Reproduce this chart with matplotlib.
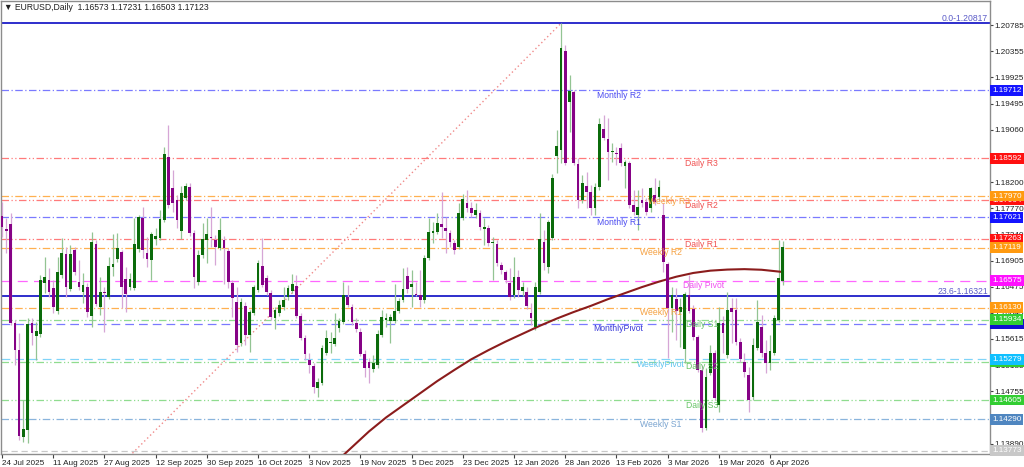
import matplotlib
matplotlib.use("Agg")
import matplotlib.pyplot as plt
import numpy as np

plt.rcParams["font.family"] = ["Liberation Sans", "DejaVu Sans"]

# ---------------- data (EURUSD daily) ----------------
opens = [
 1.17640, 1.17426, 1.17508, 1.15875, 1.15429, 1.13993, 1.14109, 1.15875, 1.15660, 1.15693,
 1.16535, 1.16584, 1.16452, 1.16073, 1.16667, 1.17013, 1.16436, 1.17079, 1.16551, 1.16386,
 1.16469, 1.15990, 1.17178, 1.16139, 1.16386, 1.16304, 1.16799, 1.16931, 1.17046, 1.16601,
 1.16469, 1.16452, 1.17096, 1.17607, 1.17030, 1.16914, 1.17261, 1.17277, 1.17574, 1.18614,
 1.18102, 1.17904, 1.17393, 1.17937, 1.18119, 1.17360, 1.16551, 1.16997, 1.17244, 1.17294,
 1.17244, 1.17112, 1.17244, 1.17063, 1.16535, 1.16221, 1.15545, 1.16155, 1.15677, 1.16040,
 1.16419, 1.16815, 1.16617, 1.16370, 1.15957, 1.16040, 1.16139, 1.16304, 1.16403, 1.16485,
 1.15990, 1.15627, 1.15264, 1.15165, 1.14802, 1.14885, 1.15380, 1.15545, 1.15528, 1.15792,
 1.15891, 1.16304, 1.16139, 1.15875, 1.15726, 1.15363, 1.15231, 1.15116, 1.15182, 1.15677,
 1.15924, 1.15908, 1.15908, 1.16073, 1.16254, 1.16650, 1.16469, 1.16353, 1.16337, 1.16254,
 1.16947, 1.17360, 1.17376, 1.17508, 1.17442, 1.17360, 1.17195, 1.17129, 1.17607, 1.17855,
 1.17772, 1.17657, 1.17690, 1.17426, 1.17442, 1.17195, 1.17178, 1.16832, 1.16716, 1.16535,
 1.16337, 1.16634, 1.16403, 1.16386, 1.16040, 1.15809, 1.16386, 1.17211, 1.16799, 1.17277,
 1.18630, 1.18729, 1.20363, 1.19521, 1.19686, 1.18498, 1.17904, 1.18135, 1.18036, 1.17772,
 1.18119, 1.19076, 1.18911, 1.18696, 1.18680, 1.18762, 1.18465, 1.18515, 1.17822, 1.17657,
 1.17904, 1.17871, 1.17772, 1.17987, 1.17954, 1.17657, 1.16848, 1.16122, 1.16271, 1.16056,
 1.15446, 1.16337, 1.16106, 1.15644, 1.15099, 1.14142, 1.15050, 1.15380, 1.14522, 1.15875,
 1.15347, 1.16122, 1.16089, 1.15561, 1.15231, 1.15017, 1.14654, 1.15462, 1.15809, 1.15380,
 1.15215, 1.15380, 1.15924, 1.16573]
highs = [
 1.17871, 1.17607, 1.17690, 1.15924, 1.15710, 1.14604, 1.15957, 1.15957, 1.15891, 1.16667,
 1.16964, 1.16782, 1.16584, 1.16964, 1.17277, 1.17129, 1.17162, 1.17129, 1.16914, 1.16700,
 1.16535, 1.17376, 1.17244, 1.16634, 1.16469, 1.16964, 1.17343, 1.17360, 1.17079, 1.16799,
 1.16700, 1.17607, 1.17657, 1.17789, 1.17294, 1.17376, 1.17442, 1.17739, 1.18779, 1.19142,
 1.18399, 1.17987, 1.18135, 1.18185, 1.18185, 1.17409, 1.17079, 1.17525, 1.17607, 1.17789,
 1.17327, 1.17607, 1.17310, 1.17112, 1.16584, 1.16469, 1.16287, 1.16221, 1.16089, 1.16502,
 1.16914, 1.17277, 1.16667, 1.16419, 1.16139, 1.16254, 1.16469, 1.16502, 1.16683, 1.16667,
 1.16040, 1.15677, 1.15380, 1.15215, 1.14967, 1.15512, 1.15759, 1.15726, 1.16040, 1.15957,
 1.16551, 1.16502, 1.16188, 1.15957, 1.15792, 1.15429, 1.15297, 1.15347, 1.15759, 1.16089,
 1.16040, 1.16023, 1.16518, 1.16287, 1.16782, 1.16799, 1.16749, 1.16551, 1.16749, 1.16997,
 1.17607, 1.17541, 1.17690, 1.18036, 1.17624, 1.17409, 1.17244, 1.17855, 1.18003, 1.18069,
 1.17871, 1.17855, 1.17739, 1.17607, 1.17492, 1.17294, 1.17244, 1.16881, 1.16749, 1.16782,
 1.16964, 1.16749, 1.16551, 1.16469, 1.16205, 1.16551, 1.17690, 1.17409, 1.17574, 1.18333,
 1.19059, 1.20817, 1.20462, 1.19967, 1.19719, 1.18597, 1.18317, 1.18366, 1.18152, 1.18185,
 1.19257, 1.19307, 1.19257, 1.18845, 1.18779, 1.18845, 1.18564, 1.18548, 1.18069, 1.18069,
 1.18102, 1.17937, 1.18119, 1.18267, 1.18234, 1.17855, 1.16881, 1.16469, 1.16452, 1.16287,
 1.16386, 1.16667, 1.16172, 1.15677, 1.15182, 1.15132, 1.15512, 1.15429, 1.16139, 1.15990,
 1.16386, 1.16287, 1.16287, 1.15627, 1.15380, 1.15149, 1.15627, 1.16254, 1.16007, 1.15594,
 1.15677, 1.16007, 1.17244, 1.17231]
lows = [
 1.17294, 1.17030, 1.15842, 1.15182, 1.13944, 1.13911, 1.13895, 1.15512, 1.15264, 1.15644,
 1.16370, 1.16304, 1.16040, 1.16023, 1.16617, 1.16304, 1.16403, 1.16667, 1.16419, 1.16205,
 1.15974, 1.15809, 1.16155, 1.16007, 1.15726, 1.16271, 1.16650, 1.16881, 1.16122, 1.16056,
 1.16419, 1.16419, 1.17046, 1.16947, 1.16799, 1.16584, 1.17162, 1.17244, 1.17541, 1.17772,
 1.17706, 1.17442, 1.17261, 1.17904, 1.17310, 1.16452, 1.16502, 1.16947, 1.16865, 1.17129,
 1.16832, 1.17079, 1.16518, 1.16452, 1.15974, 1.15396, 1.15495, 1.15512, 1.15396, 1.16007,
 1.16386, 1.16469, 1.16337, 1.15924, 1.15776, 1.15990, 1.16089, 1.16254, 1.16370, 1.15957,
 1.15594, 1.15264, 1.15050, 1.14720, 1.14654, 1.14852, 1.15347, 1.15380, 1.15495, 1.15726,
 1.15858, 1.16139, 1.15842, 1.15726, 1.15330, 1.14984, 1.14885, 1.15066, 1.15132, 1.15644,
 1.15809, 1.15545, 1.15875, 1.16040, 1.16221, 1.16370, 1.16139, 1.16320, 1.16139, 1.16205,
 1.16914, 1.17195, 1.17343, 1.17277, 1.17030, 1.17129, 1.17013, 1.17096, 1.17574, 1.17706,
 1.17624, 1.17607, 1.17409, 1.17162, 1.17145, 1.16584, 1.16815, 1.16683, 1.16535, 1.16254,
 1.16287, 1.16304, 1.16320, 1.16106, 1.15842, 1.15759, 1.16353, 1.16749, 1.16700, 1.17244,
 1.18350, 1.18515, 1.18482, 1.19026, 1.18482, 1.17772, 1.17855, 1.17772, 1.17657, 1.17657,
 1.18069, 1.18894, 1.18234, 1.18531, 1.18482, 1.18465, 1.18102, 1.17772, 1.17657, 1.17409,
 1.17789, 1.17657, 1.17706, 1.17822, 1.17904, 1.16716, 1.15297, 1.15726, 1.15594, 1.15479,
 1.15215, 1.16040, 1.15594, 1.15066, 1.14076, 1.14109, 1.15017, 1.14604, 1.14406, 1.15380,
 1.15297, 1.15545, 1.15512, 1.15231, 1.14984, 1.14406, 1.14604, 1.15429, 1.15314, 1.15050,
 1.15099, 1.15347, 1.15891, 1.16503]
closes = [
 1.17459, 1.17393, 1.15875, 1.15429, 1.14010, 1.14125, 1.15858, 1.15710, 1.15743, 1.16584,
 1.16634, 1.16386, 1.16139, 1.16716, 1.17030, 1.16469, 1.17013, 1.16716, 1.16469, 1.16502,
 1.16056, 1.17211, 1.16188, 1.16386, 1.16370, 1.16815, 1.16848, 1.17112, 1.16469, 1.16353,
 1.16601, 1.17178, 1.17624, 1.17079, 1.16931, 1.17343, 1.17310, 1.17591, 1.18663, 1.17822,
 1.17855, 1.17574, 1.18020, 1.18135, 1.17360, 1.16634, 1.16997, 1.17261, 1.17343, 1.17277,
 1.17129, 1.17409, 1.17112, 1.16551, 1.16287, 1.15512, 1.16221, 1.15677, 1.16056, 1.16469,
 1.16865, 1.16502, 1.16386, 1.15974, 1.16089, 1.16172, 1.16254, 1.16452, 1.16518, 1.15990,
 1.15627, 1.15363, 1.15182, 1.14819, 1.14901, 1.15462, 1.15627, 1.15561, 1.15627, 1.15908,
 1.16337, 1.16172, 1.15891, 1.15776, 1.15363, 1.15132, 1.15132, 1.15215, 1.15693, 1.15974,
 1.15957, 1.15974, 1.16073, 1.16238, 1.16436, 1.16436, 1.16518, 1.16337, 1.16254, 1.16947,
 1.17376, 1.17393, 1.17525, 1.17459, 1.17393, 1.17211, 1.17079, 1.17690, 1.17921, 1.17772,
 1.17690, 1.17739, 1.17459, 1.17459, 1.17195, 1.17211, 1.16865, 1.16749, 1.16584, 1.16304,
 1.16634, 1.16419, 1.16469, 1.16155, 1.15957, 1.16469, 1.17261, 1.16865, 1.17541, 1.18267,
 1.18795, 1.20412, 1.18515, 1.19703, 1.18515, 1.17904, 1.18185, 1.18036, 1.17772, 1.18119,
 1.19158, 1.18927, 1.18696, 1.18713, 1.18663, 1.18515, 1.18531, 1.17822, 1.17706, 1.17789,
 1.17855, 1.17706, 1.18102, 1.17871, 1.18119, 1.16881, 1.16122, 1.16337, 1.16073, 1.16139,
 1.16353, 1.16073, 1.15644, 1.15099, 1.14142, 1.14984, 1.15380, 1.14637, 1.15875, 1.15710,
 1.16089, 1.16056, 1.15561, 1.15281, 1.15066, 1.14604, 1.15512, 1.15891, 1.15380, 1.15215,
 1.15413, 1.15957, 1.16617, 1.17123]

date_idx = [0, 12, 24, 36, 48, 60, 72, 84, 96, 108, 120, 132, 144, 156, 168, 180]
date_labels = ["24 Jul 2025", "11 Aug 2025", "27 Aug 2025", "12 Sep 2025", "30 Sep 2025",
               "16 Oct 2025", "3 Nov 2025", "19 Nov 2025", "5 Dec 2025", "23 Dec 2025",
               "12 Jan 2026", "28 Jan 2026", "13 Feb 2026", "3 Mar 2026", "19 Mar 2026",
               "6 Apr 2026"]

price_ticks = [1.20785, 1.20355, 1.19925, 1.19495, 1.19060, 1.18630, 1.18200, 1.17770,
               1.17340, 1.16905, 1.16475, 1.16045, 1.15615, 1.15185, 1.14755, 1.14320, 1.13890]

# 200-day moving average
ma_idx = [78, 82, 86, 90, 94, 98, 102, 106, 110, 114, 118, 122, 126, 130, 134, 138, 142,
          146, 150, 154, 158, 162, 166, 170, 174, 178, 183]
ma_vals = [1.13570, 1.13830, 1.14090, 1.14320, 1.14520, 1.14720, 1.14920, 1.15103, 1.15280,
           1.15430, 1.15570, 1.15700, 1.15830, 1.15950, 1.16059, 1.16160, 1.16270, 1.16370,
           1.16470, 1.16560, 1.16640, 1.16702, 1.16740, 1.16758, 1.16765, 1.16755, 1.16718]

# Fibonacci anchors (low is off-chart to the left)
fib_low_idx, fib_low = -139, 1.01766
fib_high_idx, fib_high = 131, 1.20817
fib_levels = [("0.0-1.20817", 1.20817), ("23.6-1.16321", 1.16321)]

# pivot levels
level_names = ["Monthly R2", "Daily R3", "Daily R2", "Weekly R3", "Monthly R1", "Daily R1",
               "Weekly R2", "Daily Pivot", "Weekly R1", "Daily S1", "MonthlyPivot",
               "Daily S2", "WeeklyPivot", "Daily S3", "Weekly S1"]
level_prices = [1.19712, 1.18592, 1.17904, 1.17970, 1.17621, 1.17263, 1.17119, 1.16575,
                1.16130, 1.15934, 1.15864, 1.15240, 1.15279, 1.14605, 1.14290]
level_kind = ["MR", "DR", "DR", "WR", "MR", "DR", "WR", "DP", "WR", "DS", "MP", "DS", "WP",
              "DS", "WS"]
level_label_idx = [139.4, 160.0, 160.0, 151.4, 139.4, 160.0, 149.5, 159.6, 149.5, 160.3,
                   138.5, 160.3, 148.8, 160.3, 149.5]
bid_line = 1.13773

# ---------------- styling ----------------
styles = {
    "MR": dict(line="#7a7aff", text="#4b4bf0", box="#1414ff", ls=(0, (6, 2, 1, 2))),
    "MP": dict(line="#7a7aff", text="#3a3ad8", box="#1010d0", ls=(0, (7, 4))),
    "DR": dict(line="#ff7a7a", text="#f05050", box="#ff1010", ls=(0, (6, 2, 1, 2, 1, 2))),
    "DP": dict(line="#ff66ff", text="#f050f0", box="#ff10ff", ls=(0, (8, 5))),
    "DS": dict(line="#8fdc8f", text="#66c466", box="#32cd32", ls=(0, (6, 2, 1, 2, 1, 2))),
    "WR": dict(line="#ffb050", text="#f5a040", box="#ff9a10", ls=(0, (6, 2, 1, 2))),
    "WP": dict(line="#80d4f8", text="#60c4f0", box="#10c0ff", ls=(0, (7, 4))),
    "WS": dict(line="#8ab4dc", text="#7aa4d0", box="#4f86c0", ls=(0, (6, 2, 1, 2))),
}

FS = 6.2
RFS = 5.9
W, H = 1024, 467
fig = plt.figure(figsize=(W / 100, H / 100), dpi=100)
fig.patch.set_facecolor("white")
ax = fig.add_axes([1 / W, 13 / H, 989 / W, 453 / H])
ax.set_facecolor("white")
ax.set_xlim(-0.25, 231.55)
ax.set_ylim(1.13718, 1.21185)

# level lines
for name, p, k, lx in zip(level_names, level_prices, level_kind, level_label_idx):
    st = styles[k]
    ax.axhline(p, color=st["line"], lw=0.9, ls=st["ls"], zorder=1)
    ax.text(lx, p - 0.00010, name, color=st["text"], fontsize=FS, va="top", ha="left",
            zorder=4)

ax.axhline(bid_line, color="#c8c8c8", lw=0.9, ls=(0, (5, 3)), zorder=1)

# fib
for lab, p in fib_levels:
    ax.axhline(p, color="#1c1cc8", lw=1.3, zorder=2)
    ax.text(0.998, p + 0.00008, lab, transform=ax.get_yaxis_transform(), ha="right",
            va="bottom", fontsize=FS, color="#5a5ac8", zorder=4)
ax.plot([fib_low_idx, fib_high_idx], [fib_low, fib_high], color="#f08a8a", lw=1.0,
        ls=(0, (1, 2)), zorder=1)

# candles
o = np.array(opens); h = np.array(highs); l = np.array(lows); c = np.array(closes)
x = np.arange(len(c))
up = c >= o
ax.vlines(x[up], l[up], h[up], color="#93c493", lw=0.9, zorder=3)
ax.vlines(x[~up], l[~up], h[~up], color="#d6a6d6", lw=0.9, zorder=3)
bh = np.maximum(np.abs(c - o), 0.00012)
bb = np.minimum(o, c)
ax.bar(x[up], bh[up], bottom=bb[up], width=0.64, color="#0b6b0b", lw=0, zorder=3.5)
ax.bar(x[~up], bh[~up], bottom=bb[~up], width=0.64, color="#860286", lw=0, zorder=3.5)

# moving average
ax.plot(ma_idx, ma_vals, color="#8b1c1c", lw=1.5, zorder=3.2, solid_capstyle="round")

# axes styling
for s in ax.spines.values():
    s.set_color("#8c8c8c")
    s.set_linewidth(1.0)
ax.yaxis.tick_right()
ax.set_yticks(price_ticks)
ax.set_yticklabels([f"{v:.5f}" for v in price_ticks])
ax.tick_params(axis="y", direction="out", length=2, width=0.8, labelsize=RFS, pad=1,
               color="#404040", labelcolor="#202020")
ax.set_xticks(date_idx)
ax.set_xticklabels(date_labels, ha="left")
ax.tick_params(axis="x", direction="out", length=3, width=0.8, labelsize=RFS, pad=1,
               color="#404040", labelcolor="#202020")

# right-hand price boxes
box_order = [10, 9, 11, 12, 2, 3, 0, 1, 4, 5, 6, 7, 8, 13, 14]
for j in box_order:
    st = styles[level_kind[j]]
    ax.annotate(f"{level_prices[j]:.5f}", xy=(1.0, level_prices[j]),
                xycoords=("axes fraction", "data"), xytext=(1.6, 0),
                textcoords="offset points", ha="left", va="center", fontsize=RFS,
                color="white", annotation_clip=False, zorder=6,
                bbox=dict(boxstyle="square,pad=0.22", fc=st["box"], ec="none"))
ax.annotate(f"{bid_line:.5f}", xy=(1.0, bid_line), xycoords=("axes fraction", "data"),
            xytext=(1.6, 0), textcoords="offset points", ha="left", va="center",
            fontsize=RFS, color="white", annotation_clip=False, zorder=6,
            bbox=dict(boxstyle="square,pad=0.22", fc="#c8c8c8", ec="none"))

fig.text(4 / W, 1 - 8 / H, "\u25BC EURUSD,Daily  1.16573 1.17231 1.16503 1.17123",
         fontsize=FS, va="center", ha="left", color="#202020")

fig.savefig("out.png", dpi=100, facecolor="white")
